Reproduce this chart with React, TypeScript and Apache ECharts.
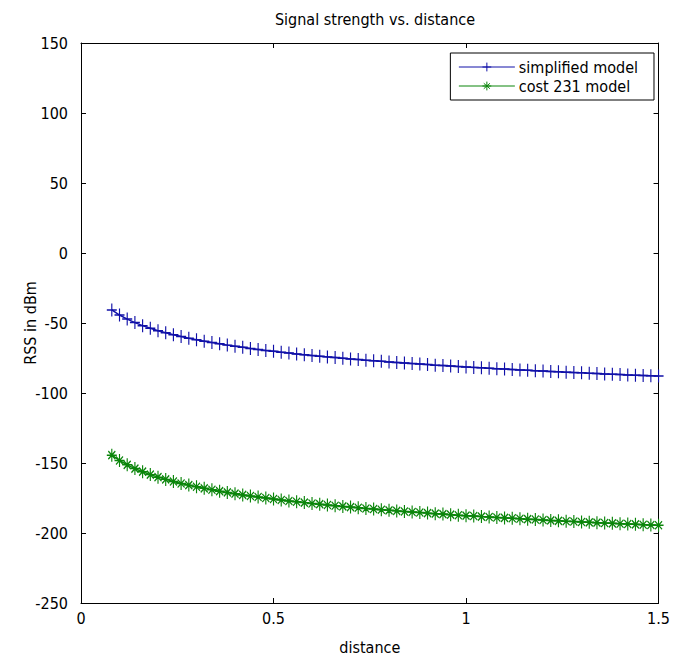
import React, { useEffect, useRef } from "react";
import * as echarts from "echarts";

const distances = [
  0.08, 0.1, 0.12, 0.14, 0.16, 0.18, 0.2, 0.22, 0.24, 0.26, 0.28, 0.3, 0.32, 0.34, 0.36, 0.38,
  0.4, 0.42, 0.44, 0.46, 0.48, 0.5, 0.52, 0.54, 0.56, 0.58, 0.6, 0.62, 0.64, 0.66, 0.68, 0.7,
  0.72, 0.74, 0.76, 0.78, 0.8, 0.82, 0.84, 0.86, 0.88, 0.9, 0.92, 0.94, 0.96, 0.98, 1.0, 1.02,
  1.04, 1.06, 1.08, 1.1, 1.12, 1.14, 1.16, 1.18, 1.2, 1.22, 1.24, 1.26, 1.28, 1.3, 1.32, 1.34,
  1.36, 1.38, 1.4, 1.42, 1.44, 1.46, 1.48, 1.5,
];

const simplifiedModel = [
  -40.7, -44.3, -47.2, -49.7, -51.9, -53.8, -55.5, -57.0, -58.4, -59.7, -60.9, -62.0, -63.0, -64.0, -64.9, -65.8,
  -66.6, -67.4, -68.2, -68.9, -69.6, -70.2, -70.9, -71.5, -72.1, -72.6, -73.2, -73.7, -74.2, -74.7, -75.2, -75.7,
  -76.1, -76.6, -77.0, -77.4, -77.8, -78.2, -78.6, -79.0, -79.3, -79.7, -80.1, -80.4, -80.7, -81.1, -81.4, -81.7,
  -82.0, -82.3, -82.6, -82.9, -83.2, -83.5, -83.8, -84.1, -84.3, -84.6, -84.9, -85.1, -85.4, -85.6, -85.9, -86.1,
  -86.4, -86.6, -86.8, -87.1, -87.3, -87.5, -87.7, -87.9,
];

const cost231Model = [
  -144.4, -148.2, -151.3, -154.0, -156.2, -158.3, -160.1, -161.7, -163.2, -164.6, -165.8, -167.0, -168.1, -169.1, -170.1, -171.0,
  -171.9, -172.8, -173.6, -174.3, -175.0, -175.7, -176.4, -177.1, -177.7, -178.3, -178.9, -179.4, -180.0, -180.5, -181.0, -181.5,
  -182.0, -182.5, -182.9, -183.4, -183.8, -184.2, -184.6, -185.0, -185.4, -185.8, -186.2, -186.5, -186.9, -187.3, -187.6, -187.9,
  -188.3, -188.6, -188.9, -189.2, -189.5, -189.8, -190.1, -190.4, -190.7, -191.0, -191.3, -191.6, -191.8, -192.1, -192.4, -192.6,
  -192.9, -193.1, -193.4, -193.6, -193.8, -194.1, -194.3, -194.5,
];

const seriesNames = ["simplified model", "cost 231 model"];
const xRange = [0, 1.5];
const xStep = 0.5;
const yRange = [-250, 150];
const yStep = 50;

const FONT = "'DejaVu Sans Condensed', 'Liberation Sans Narrow', sans-serif";
const PLUS = "path://M0,6.5L10,6.5M5,0L5,13";
const STAR = "path://M0,6.5L10,6.5M5,0L5,13M1.5,2.5L8.5,10.5M8.5,2.5L1.5,10.5";
const BLUE = "#1010a8";
const GREEN = "#0a850a";

export default function App() {
  const ref = useRef<HTMLDivElement>(null);
  useEffect(() => {
    if (!ref.current) return;
    const chart = echarts.init(ref.current, undefined, { renderer: "svg" });
    const axisCommon = {
      type: "value" as const,
      axisLine: { show: true, onZero: false, lineStyle: { color: "#000", width: 1 } },
      axisTick: { show: true, inside: true, length: 5, lineStyle: { color: "#000", width: 1 } },
      splitLine: { show: false },
    };
    const labelStyle = { color: "#000", fontSize: 16, fontFamily: FONT };
    chart.setOption({
      animation: false,
      backgroundColor: "#fff",
      title: {
        text: "Signal strength vs. distance",
        left: 370,
        textAlign: "center",
        top: 6,
        textStyle: { color: "#000", fontSize: 16, fontWeight: "normal", fontFamily: FONT },
      },
      grid: { left: 81, right: 11, top: 43, bottom: 58 },
      xAxis: [
        {
          ...axisCommon,
          position: "bottom",
          min: xRange[0],
          max: xRange[1],
          interval: xStep,
          axisLabel: { ...labelStyle, margin: 7 },
          name: "distance",
          nameLocation: "middle",
          nameGap: 36,
          nameMoveOverlap: false,
          nameTextStyle: labelStyle,
        },
        {
          ...axisCommon,
          position: "top",
          min: xRange[0],
          max: xRange[1],
          interval: xStep,
          axisLabel: { show: false },
        },
      ],
      yAxis: [
        {
          ...axisCommon,
          position: "left",
          min: yRange[0],
          max: yRange[1],
          interval: yStep,
          axisLabel: { ...labelStyle, margin: 13 },
          name: "RSS in dBm",
          nameLocation: "middle",
          nameGap: 43,
          nameMoveOverlap: false,
          nameTextStyle: labelStyle,
        },
        {
          ...axisCommon,
          position: "right",
          min: yRange[0],
          max: yRange[1],
          interval: yStep,
          axisLabel: { show: false },
        },
      ],
      legend: {
        orient: "vertical",
        right: 19,
        top: 53,
        borderColor: "#000",
        borderWidth: 1,
        padding: [6, 16, 6, 8],
        itemGap: 3,
        itemWidth: 56,
        itemHeight: 11,
        lineStyle: { width: 1 },
        itemStyle: { borderWidth: 1 },
        textStyle: { ...labelStyle, padding: [0, 0, 0, -1] },
        data: seriesNames,
      },
      series: [
        {
          name: seriesNames[0],
          type: "line",
          data: distances.map((d, i) => [d, simplifiedModel[i]]),
          symbol: PLUS,
          symbolSize: [10, 13],
          lineStyle: { color: BLUE, width: 1.5 },
          itemStyle: { color: "none", borderColor: BLUE, borderWidth: 1.3 },
          showSymbol: true,
          showAllSymbol: true,
        },
        {
          name: seriesNames[1],
          type: "line",
          data: distances.map((d, i) => [d, cost231Model[i]]),
          symbol: STAR,
          symbolSize: [10, 13],
          lineStyle: { color: GREEN, width: 1.5 },
          itemStyle: { color: "none", borderColor: GREEN, borderWidth: 1.3 },
          showSymbol: true,
          showAllSymbol: true,
        },
      ],
    });
    return () => chart.dispose();
  }, []);
  return (
    <div
      ref={ref}
      style={{ position: "fixed", left: 0, top: 0, width: 673, height: 661, background: "#fff" }}
    />
  );
}
